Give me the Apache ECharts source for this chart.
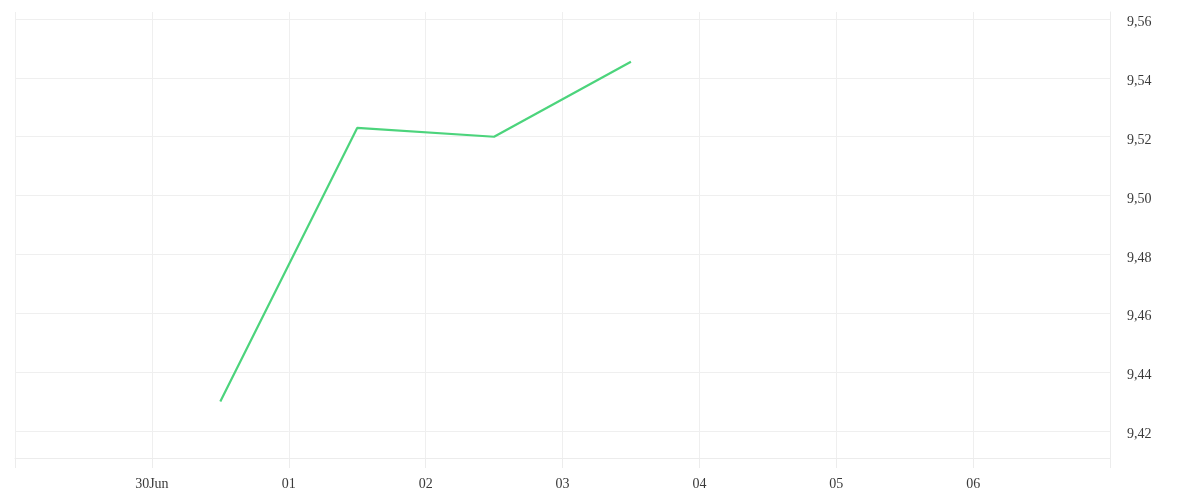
<!DOCTYPE html>
<html><head><meta charset="utf-8">
<script src="https://cdn.jsdelivr.net/npm/echarts@6/dist/echarts.min.js"></script>
<style>html,body{margin:0;padding:0;background:#fff}#c{width:1200px;height:500px}</style>
</head><body><div id="c"></div>
<script>
const dates = ['2024-06-30T12:00', '2024-07-01T12:00', '2024-07-02T12:00', '2024-07-03T12:00'];
const values = [9.430, 9.523, 9.520, 9.5455];
const xMinDate = '2024-06-29T00:00';
const xMaxDate = '2024-07-07T00:00';
const yMin = 9.4108, yMax = 9.5624;

function t(s){ const [d,h]=s.split('T'); const [Y,M,D]=d.split('-').map(Number); const [hh,mm]=h.split(':').map(Number); return new Date(Y,M-1,D,hh,mm).getTime(); }
const DAY = 86400000;
const chart = echarts.init(document.getElementById('c'));
chart.setOption({
  animation: false,
  grid: {left: 15, right: 90, top: 12, bottom: 42},
  xAxis: {
    type: 'time', min: t(xMinDate), max: t(xMaxDate),
    minInterval: DAY, maxInterval: DAY,
    axisLine: {show: true, lineStyle: {color: '#ececec'}},
    axisTick: {show: true, length: 10, lineStyle: {color: '#ececec'}},
    splitLine: {show: true, lineStyle: {color: '#efefef'}},
    axisLabel: {
      margin: 19, hideOverlap: false,
      fontFamily: 'Liberation Serif', fontSize: 14, color: '#3a3a3a',
      formatter: function(v){ if (v <= t(xMinDate) || v >= t(xMaxDate)) return ''; const d = new Date(v); const dd = String(d.getDate()).padStart(2,'0'); return d.getDate()===30 && d.getMonth()===5 ? dd+'Jun' : dd; }
    }
  },
  yAxis: {
    type: 'value', position: 'right', min: yMin, max: yMax, splitNumber: 8, scale: true,
    axisLine: {show: true, lineStyle: {color: '#ececec'}},
    axisTick: {show: false},
    splitLine: {show: true, showMinLine: false, showMaxLine: false, lineStyle: {color: '#efefef'}},
    axisLabel: {
      showMinLabel: false, showMaxLabel: false,
      margin: 17, fontFamily: 'Liberation Serif', fontSize: 14, color: '#3a3a3a',
      verticalAlign: 'top', lineHeight: 7,
      formatter: function(v){ return v.toFixed(2).replace('.', ','); }
    }
  },
  series: [{
    type: 'line', data: dates.map((d,i)=>[t(d), values[i]]),
    showSymbol: false, symbol: 'none',
    lineStyle: {color: '#4cd47c', width: 2.2}
  }]
});
</script></body></html>
